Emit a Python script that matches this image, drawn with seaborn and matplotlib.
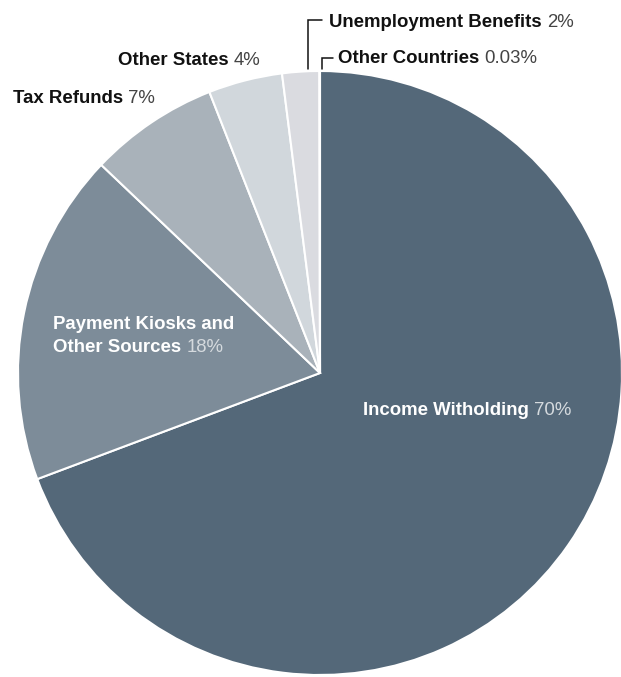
import matplotlib
matplotlib.use("Agg")
import matplotlib.pyplot as plt
import seaborn as sns

# Sources of payments, in percent
categories = ["Income Witholding", "Payment Kiosks and Other Sources", "Tax Refunds",
              "Other States", "Unemployment Benefits", "Other Countries"]
shares = [70, 18, 7, 4, 2, 0.03]
share_labels = ["70%", "18%", "7%", "4%", "2%", "0.03%"]
colors = ["#546879", "#7d8c99", "#a9b2ba", "#d1d7dc", "#dadbe0", "#e4e4e8"]

sns.set_theme(style="white")
plt.rcParams["font.family"] = ["Liberation Sans", "DejaVu Sans"]

W, H = 621, 677
fig = plt.figure(figsize=(W / 100, H / 100), dpi=100)
ax = fig.add_axes([0, 0, 1, 1])

cx, cy, r = 320, H - 373, 302
ax.pie(shares, colors=colors, startangle=90, counterclock=False,
       center=(cx, cy), radius=r, frame=True,
       wedgeprops=dict(edgecolor="white", linewidth=1.5))
ax.set_xlim(0, W)
ax.set_ylim(0, H)
ax.set_aspect("equal")
ax.axis("off")

fig.canvas.draw()
renderer = fig.canvas.get_renderer()
FS = 13.4


def label(x, y_px, name, pct, name_color, pct_color):
    """Bold name followed by a lighter percentage, baseline at y_px (from top)."""
    y = H - y_px
    t = ax.text(x, y, name, fontsize=FS, fontweight="bold", color=name_color,
                va="baseline", ha="left")
    bb = t.get_window_extent(renderer=renderer)
    x_end = ax.transData.inverted().transform((bb.x1, bb.y0))[0]
    if pct:
        ax.text(x_end + 5, y, pct, fontsize=FS, color=pct_color,
                va="baseline", ha="left")


dark, grey = "#111111", "#444444"
label(363, 415, categories[0], share_labels[0], "white", "#d5dade")
label(53, 329, "Payment Kiosks and", "", "white", "#d5dade")
label(53, 352, "Other Sources", share_labels[1], "white", "#d5dade")
label(13, 103, categories[2], share_labels[2], dark, grey)
label(118, 65, categories[3], share_labels[3], dark, grey)
label(329, 27, categories[4], share_labels[4], dark, grey)
label(338, 63, categories[5], share_labels[5], dark, grey)

# leader lines for the two thin slices at the top
ax.plot([308, 308, 322], [H - 69, H - 19.5, H - 19.5], color="#111111", lw=1.1,
        solid_joinstyle="miter")
ax.plot([322, 322, 333], [H - 69, H - 57.5, H - 57.5], color="#111111", lw=1.1,
        solid_joinstyle="miter")

fig.savefig("out.png", dpi=100, facecolor="white")
